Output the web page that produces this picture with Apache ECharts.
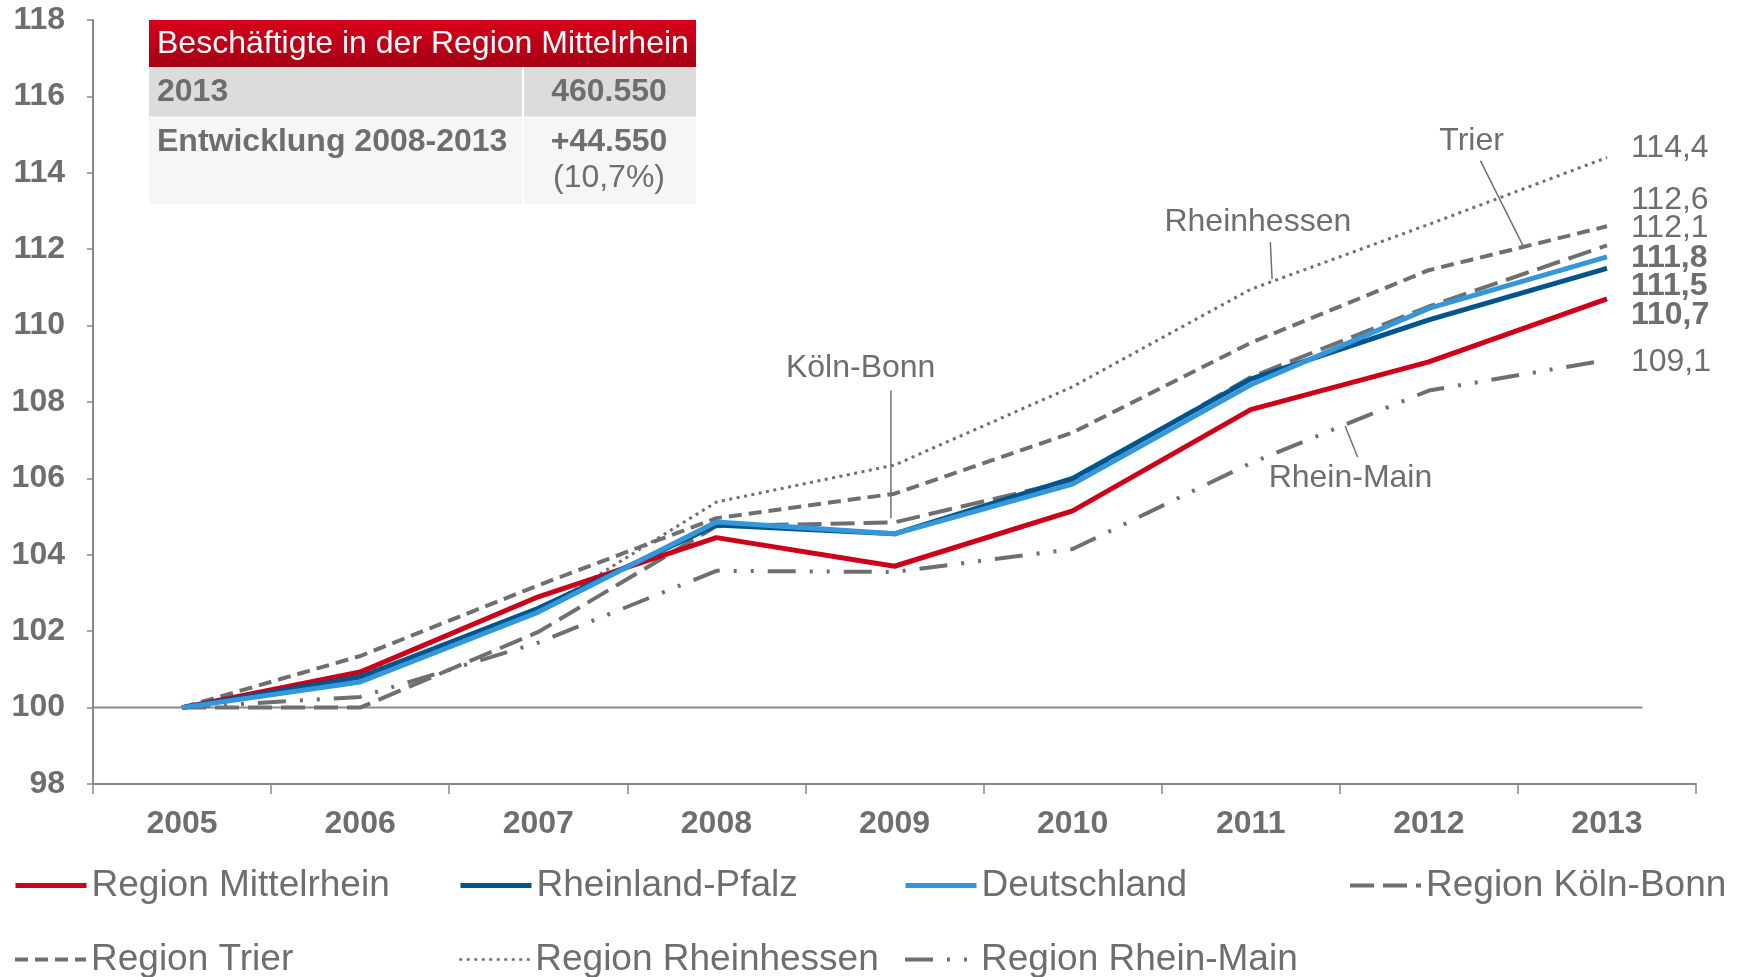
<!DOCTYPE html>
<html>
<head>
<meta charset="utf-8">
<script src="https://cdn.jsdelivr.net/npm/echarts@6/dist/echarts.min.js"></script>
<style>
html, body { margin: 0; padding: 0; background: #fff; }
#chart { width: 1744px; height: 977px; }
</style>
</head>
<body>
<div id="chart"></div>
<script>
// Beschäftigte, Index 2005 = 100
const years = ['2005', '2006', '2007', '2008', '2009', '2010', '2011', '2012', '2013'];
const mittelrhein = [100, 100.93, 102.9, 104.45, 103.7, 105.15, 107.8, 109.05, 110.7];
const rheinlandPfalz = [100, 100.8, 102.6, 104.78, 104.55, 106.0, 108.6, 110.15, 111.5];
const deutschland = [100, 100.67, 102.5, 104.86, 104.55, 105.85, 108.45, 110.45, 111.8];
const koelnBonn = [100, 100.0, 101.98, 104.75, 104.85, 105.95, 108.65, 110.5, 112.1];
const trier = [100, 101.35, 103.2, 104.96, 105.6, 107.2, 109.55, 111.45, 112.6];
const rheinhessen = [100, 100.85, 102.5, 105.38, 106.35, 108.4, 110.95, 112.65, 114.4];
const rheinMain = [100, 100.28, 101.7, 103.58, 103.55, 104.15, 106.4, 108.3, 109.1];

const yMin = 98, yMax = 118, yStep = 2;

const tableTitle = 'Beschäftigte in der Region Mittelrhein';
const tableRows = [['2013', '460.550'], ['Entwicklung 2008-2013', '+44.550', '(10,7%)']];

const GRAY = '#6f6f6f';
const TXT = '#6e6e6e';
const FONT = '"Liberation Sans", Arial, sans-serif';
const FS = 32;

const chart = echarts.init(document.getElementById('chart'));

function fmt(p) {
    return p.value.toFixed(1).replace('.', ',');
}

function line(name, data, color, width, type, endOff, bold) {
    return {
        name: name,
        type: 'line',
        data: data,
        symbol: 'none',
        z: 3,
        lineStyle: { color: color, width: width, type: type, cap: 'butt' },
        itemStyle: { color: color },
        endLabel: {
            show: true,
            formatter: fmt,
            offset: endOff,
            fontSize: FS,
            fontFamily: FONT,
            fontWeight: bold ? 'bold' : 'normal',
            color: TXT
        }
    };
}

// one legend per entry so the columns line up like the original
function legend(name, lw, col, row) {
    return {
        left: 13 + col * 445, top: 867 + row * 74, padding: 0,
        itemWidth: 71, itemHeight: 14,
        itemStyle: { opacity: 0 },
        textStyle: { fontSize: 37, fontFamily: FONT, color: TXT },
        data: [{ name: name, lineStyle: { width: lw } }]
    };
}

var option = {
    animation: false,
    textStyle: { fontFamily: FONT },
    grid: { left: 93, right: 48, top: 20, bottom: 193 },
    xAxis: {
        type: 'category',
        data: years,
        boundaryGap: true,
        axisLine: { lineStyle: { color: '#888', width: 2 } },
        axisTick: { show: true, length: 10, lineStyle: { color: '#888', width: 1.5 } },
        axisLabel: { fontSize: FS, fontWeight: 'bold', color: TXT, margin: 24, fontFamily: FONT }
    },
    yAxis: {
        type: 'value',
        min: yMin,
        max: yMax,
        interval: yStep,
        splitLine: { show: false },
        axisLine: { show: true, lineStyle: { color: '#888', width: 2 } },
        axisTick: { show: true, length: 6, lineStyle: { color: '#888', width: 1.5 } },
        axisLabel: { fontSize: FS, fontWeight: 'bold', color: TXT, margin: 28, fontFamily: FONT }
    },
    legend: [
        legend('Region Mittelrhein', 5, 0, 0),
        legend('Rheinland-Pfalz', 5, 1, 0),
        legend('Deutschland', 5, 2, 0),
        legend('Region Köln-Bonn', 4, 3, 0),
        legend('Region Trier', 4, 0, 1),
        legend('Region Rheinhessen', 2.5, 1, 1),
        legend('Region Rhein-Main', 4, 2, 1)
    ],
    series: [
        line('Region Rhein-Main', rheinMain, GRAY, 4, [28, 14, 3, 14, 3, 14], [16, 2], false),
        line('Region Rheinhessen', rheinhessen, GRAY, 3, [3, 4.5], [16, -9], false),
        line('Region Trier', trier, GRAY, 4, [13, 7], [16, -26], false),
        line('Region Köln-Bonn', koelnBonn, GRAY, 4, [24, 9], [16, -17], false),
        line('Region Mittelrhein', mittelrhein, '#cc0018', 5, 'solid', [16, 16], true),
        line('Rheinland-Pfalz', rheinlandPfalz, '#00558c', 5, 'solid', [16, 18], true),
        line('Deutschland', deutschland, '#3497dc', 5, 'solid', [16, 1], true)
    ]
};

chart.setOption(option);

// Series names written next to the lines, anchored in data coordinates
const notes = [
    { text: 'Köln-Bonn', at: [3.81, 108.89], from: [3.98, 108.3], to: [3.98, 104.96] },
    { text: 'Rheinhessen', at: [6.04, 112.71], from: [6.11, 112.19], to: [6.12, 111.22] },
    { text: 'Trier', at: [7.24, 114.83], from: [7.29, 114.31], to: [7.53, 112.08] },
    { text: 'Rhein-Main', at: [6.56, 106.01], from: [6.60, 106.56], to: [6.53, 107.37] }
];

// category axis snaps to whole indices, so interpolate between them
function px(p) {
    const a = chart.convertToPixel({ xAxisIndex: 0, yAxisIndex: 0 }, [0, p[1]]);
    const b = chart.convertToPixel({ xAxisIndex: 0, yAxisIndex: 0 }, [1, p[1]]);
    return [a[0] + (b[0] - a[0]) * p[0], a[1]];
}

const graphics = [];
const base0 = px([-0.5, 100]);
const base1 = px([8.2, 100]);
graphics.push({
    type: 'line', z: 1,
    shape: { x1: base0[0], y1: base0[1], x2: base1[0], y2: base1[1] },
    style: { stroke: '#888', lineWidth: 2 }
});

notes.forEach(function (n) {
    const a = px(n.at), f = px(n.from), t = px(n.to);
    graphics.push({
        type: 'text', z: 5, x: a[0], y: a[1],
        style: { text: n.text, fill: TXT, fontSize: FS, fontFamily: FONT, align: 'center', verticalAlign: 'middle' }
    });
    graphics.push({
        type: 'line', z: 5,
        shape: { x1: f[0], y1: f[1], x2: t[0], y2: t[1] },
        style: { stroke: '#707070', lineWidth: 1.5 }
    });
});

// info table, top left
graphics.push({
    type: 'rect', z: 10,
    shape: { x: 149, y: 20, width: 547, height: 47 },
    style: { fill: new echarts.graphic.LinearGradient(0, 0, 0, 1, [
        { offset: 0, color: '#d8001e' }, { offset: 1, color: '#a30012' }]) }
});
graphics.push({
    type: 'rect', z: 10,
    shape: { x: 149, y: 67, width: 547, height: 50 },
    style: { fill: '#dcdcdc' }
});
graphics.push({
    type: 'rect', z: 10,
    shape: { x: 149, y: 117, width: 547, height: 87 },
    style: { fill: '#f6f6f6' }
});
graphics.push({
    type: 'line', z: 11,
    shape: { x1: 523, y1: 67, x2: 523, y2: 204 },
    style: { stroke: '#ffffff', lineWidth: 2 }
});
graphics.push({
    type: 'line', z: 11,
    shape: { x1: 149, y1: 117, x2: 696, y2: 117 },
    style: { stroke: '#ffffff', lineWidth: 1 }
});
graphics.push({
    type: 'text', z: 12, x: 157, y: 44,
    style: { text: tableTitle, fill: '#fff', fontSize: FS, fontFamily: FONT, verticalAlign: 'middle' }
});
graphics.push({
    type: 'text', z: 12, x: 157, y: 92,
    style: { text: tableRows[0][0], fill: TXT, fontSize: FS, fontWeight: 'bold', fontFamily: FONT, verticalAlign: 'middle' }
});
graphics.push({
    type: 'text', z: 12, x: 609, y: 92,
    style: { text: tableRows[0][1], fill: TXT, fontSize: FS, fontWeight: 'bold', fontFamily: FONT, align: 'center', verticalAlign: 'middle' }
});
graphics.push({
    type: 'text', z: 12, x: 157, y: 142,
    style: { text: tableRows[1][0], fill: TXT, fontSize: FS, fontWeight: 'bold', fontFamily: FONT, verticalAlign: 'middle' }
});
graphics.push({
    type: 'text', z: 12, x: 609, y: 142,
    style: { text: tableRows[1][1], fill: TXT, fontSize: FS, fontWeight: 'bold', fontFamily: FONT, align: 'center', verticalAlign: 'middle' }
});
graphics.push({
    type: 'text', z: 12, x: 609, y: 178,
    style: { text: tableRows[1][2], fill: TXT, fontSize: FS, fontFamily: FONT, align: 'center', verticalAlign: 'middle' }
});

chart.setOption({ graphic: graphics });
</script>
</body>
</html>
